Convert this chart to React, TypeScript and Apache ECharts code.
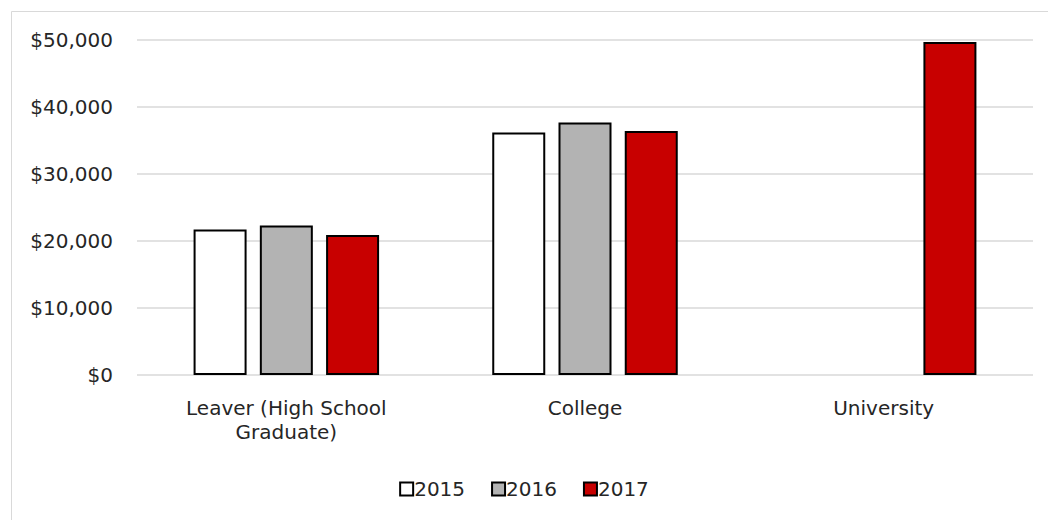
import React, { useEffect, useRef } from "react";
import * as echarts from "echarts";

const categories = ["Leaver (High School\nGraduate)", "College", "University"];
const years = ["2015", "2016", "2017"];
const values2015: (number | null)[] = [21700, 36200, null];
const values2016: (number | null)[] = [22300, 37700, null];
const values2017: (number | null)[] = [20900, 36400, 49700];

const FONT = "DejaVu Sans";
const TEXT = "#262626";

export default function App() {
  const ref = useRef<HTMLDivElement>(null);

  useEffect(() => {
    if (!ref.current) return;
    const chart = echarts.init(ref.current, null, { renderer: "svg" });
    const fills = ["#ffffff", "#b3b3b3", "#c80000"];
    const seriesData = [values2015, values2016, values2017];

    chart.setOption({
      animation: false,
      backgroundColor: "#ffffff",
      textStyle: { fontFamily: FONT, color: TEXT },
      graphic: [
        {
          type: "rect",
          shape: { x: 11.5, y: 11.5, width: 1100, height: 600 },
          style: { fill: "none", stroke: "#d9d9d9", lineWidth: 1 },
          silent: true,
        },
      ],
      grid: { left: 137, right: 15, top: 40, bottom: 145 },
      legend: {
        data: years,
        bottom: 16,
        left: "center",
        icon: "rect",
        itemWidth: 13,
        itemHeight: 13,
        itemGap: 26,
        textStyle: { fontFamily: FONT, fontSize: 20, color: TEXT, padding: [0, 0, 0, -4] },
      },
      xAxis: {
        type: "category",
        data: categories,
        axisLine: { show: false },
        axisTick: { show: false },
        axisLabel: {
          fontFamily: FONT,
          fontSize: 20,
          color: TEXT,
          margin: 21,
          lineHeight: 24,
          interval: 0,
        },
      },
      yAxis: {
        type: "value",
        min: 0,
        max: 50000,
        interval: 10000,
        axisLine: { show: false },
        axisTick: { show: false },
        splitLine: { lineStyle: { color: "#d9d9d9", width: 1.5 } },
        axisLabel: {
          fontFamily: FONT,
          fontSize: 20,
          color: TEXT,
          margin: 24,
          formatter: (v: number) => "$" + v.toLocaleString("en-US"),
        },
      },
      series: years.map((y, i) => ({
        name: y,
        type: "bar",
        data: seriesData[i],
        barWidth: 53,
        barGap: "25%",
        itemStyle: { color: fills[i], borderColor: "#000000", borderWidth: 2 },
      })),
    });

    return () => chart.dispose();
  }, []);

  return (
    <div
      ref={ref}
      style={{ position: "fixed", left: 0, top: 0, width: 1048, height: 520 }}
    />
  );
}
